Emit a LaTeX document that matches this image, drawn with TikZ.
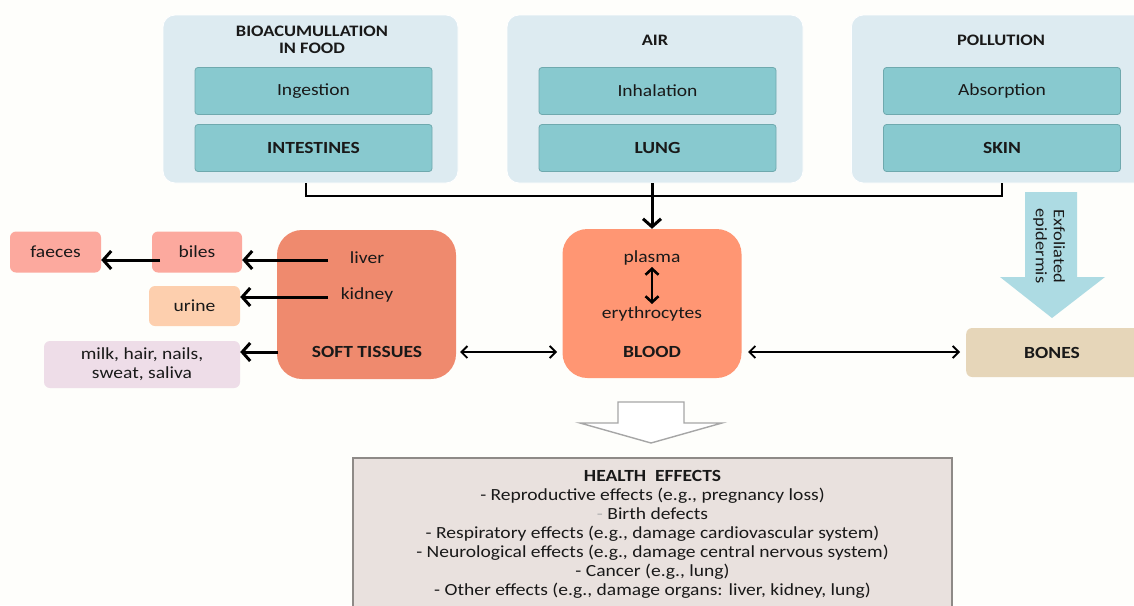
\documentclass[tikz,border=0pt]{standalone}
\usepackage{fontspec}
\setmainfont{Carlito}[FakeStretch=1.15]
\usetikzlibrary{arrows.meta}
\definecolor{bg}{HTML}{FEFEFB}
\definecolor{cont}{HTML}{DDEBF1}
\definecolor{teal}{HTML}{88C9CF}
\definecolor{tealedge}{HTML}{6FA9AE}
\definecolor{soft}{HTML}{EF8A6E}
\definecolor{blood}{HTML}{FF9673}
\definecolor{bile}{HTML}{FCA99E}
\definecolor{urine}{HTML}{FDCFAE}
\definecolor{milk}{HTML}{EEDDE8}
\definecolor{bones}{HTML}{E6D6B9}
\definecolor{exfol}{HTML}{ADDBE3}
\definecolor{health}{HTML}{E9E1DE}
\definecolor{healthedge}{HTML}{8E8A87}
\tikzset{
  txt/.style={font=\fontsize{17}{19}\selectfont, text=black!90},
  btxt/.style={font=\fontsize{17}{19}\selectfont\bfseries, text=black!90},
  container/.style={fill=cont, draw=white, rounded corners=12pt, line width=0.8pt},
  inner/.style={fill=teal, draw=tealedge, rounded corners=3pt, line width=0.8pt,
    minimum width=237pt, minimum height=47pt, txt},
  organ/.style={rounded corners=25pt, minimum width=179pt, minimum height=149pt},
  outbox/.style={rounded corners=6pt, minimum height=41pt, txt},
  thickarr/.style={line width=3pt, -{Straight Barb[length=8pt,width=18pt]}},
  dblarr/.style={line width=1.8pt, {Straight Barb[length=6pt,width=12pt]}-{Straight Barb[length=6pt,width=12pt]}},
  lbl/.style={txt, inner sep=0pt}
}
\begin{document}
\begin{tikzpicture}[x=1pt,y=-1pt]
\fill[bg] (0,0) rectangle (1134,605);
\useasboundingbox (0,0) rectangle (1134,605);

% top containers
\node[container, minimum width=295pt, minimum height=168pt] (c1) at (310.5,99) {};
\node[container, minimum width=296pt, minimum height=168pt] (c2) at (655,99) {};
\node[container, minimum width=300pt, minimum height=168pt, anchor=west] (c3) at (851,99) {};

\node[lbl, btxt, align=center, font=\fontsize{16}{17}\selectfont\bfseries] (t1) at (312,39.5) {BIOACUMULLATION\\IN FOOD};
\node[lbl, btxt, font=\fontsize{16}{17}\selectfont\bfseries] (t2) at (655,40) {AIR};
\node[lbl, btxt, font=\fontsize{16}{17}\selectfont\bfseries] (t3) at (1001,40) {POLLUTION};

\node[inner] (ing) at (313.5,91) {Ingestion};
\node[inner, btxt] (int) at (313.5,148) {INTESTINES};
\node[inner] (inh) at (657.5,91) {Inhalation};
\node[inner, btxt] (lung) at (657.5,148) {LUNG};
\node[inner] (abs) at (1002,91) {Absorption};
\node[inner, btxt] (skin) at (1002,148) {SKIN};

% organs
\node[organ, fill=soft] (soft) at (366.5,304.5) {};
\node[organ, fill=blood] (blood) at (652,303.5) {};
\node[lbl] (liver) at (367,258) {liver};
\node[lbl] (kidney) at (367,295) {kidney};
\node[lbl, btxt] (stl) at (367,352) {SOFT TISSUES};
\node[lbl] (plasma) at (652,258) {plasma};
\node[lbl] (ery) at (652,314) {erythrocytes};
\node[lbl, btxt] (bl) at (652,352) {BLOOD};

% outputs
\node[outbox, fill=bile, minimum width=90pt] (biles) at (197,252) {biles};
\node[outbox, fill=bile, minimum width=91pt] (faeces) at (55.5,252) {faeces};
\node[outbox, fill=urine, minimum width=91pt, minimum height=40pt] (urine) at (194.5,306) {urine};
\node[outbox, fill=milk, minimum width=196pt, minimum height=47pt, align=center] (milk) at (142,364.5) {milk, hair, nails,\\sweat, saliva};
\node[outbox, fill=bones, minimum width=175pt, minimum height=49pt, anchor=west] (bones) at (966,352.5) {};
\node[lbl, btxt] (bonest) at (1052,353) {BONES};

% top connector
\coordinate (j1) at (306,196);
\coordinate (j3) at (1002,196);
\draw[line width=2.6pt] (306,183) -- (j1) -- (j3) -- (1002,183);
\draw[thickarr] (652,183) -- (blood.north);

% exfoliated epidermis arrow
\fill[exfol] (1025,192) -- (1077,192) -- (1077,277) -- (1105,277) -- (1052,318) -- (1000,277) -- (1025,277) -- cycle;
\node[lbl, rotate=-90, align=center, font=\fontsize{16}{18}\selectfont] (exf) at (1049,246) {Exfoliated\\epidermis};

% organ outputs
\coordinate (liverA) at (328,260);
\coordinate (kidA) at (328,297);
\coordinate (stA) at (278,352);
\coordinate (bilA) at (160,260);
\draw[thickarr] (liverA) -- (biles.east |- liverA);
\draw[thickarr] (kidA) -- (urine.east |- kidA);
\draw[thickarr] (stA) -- (milk.east |- stA);
\draw[thickarr] (bilA) -- (faeces.east |- bilA);
\draw[line width=2.6pt, {Straight Barb[length=6pt,width=13pt]}-{Straight Barb[length=6pt,width=13pt]}] (652,267) -- (652,304);

% double arrows
\draw[dblarr] (soft.east |- stl) ++(4,0) -- (557,352);
\draw[dblarr] (748,352) -- (960,352);

% health arrow
\draw[fill=white!95!blue!3, draw=gray!70, line width=1.4pt, line join=miter]
  (618,402) -- (684,402) -- (684,423) -- (722,423) -- (651,443) -- (580,423) -- (618,423) -- cycle;

% health box
\draw[fill=health, draw=healthedge, line width=1.4pt] (353,458) rectangle (952,612);
\node[lbl, align=center, font=\fontsize{17}{19}\selectfont, anchor=north] (he) at (652.5,470)
  {\textbf{HEALTH\ \ EFFECTS}\\
  - Reproductive effects (e.g., pregnancy loss)\\
  {\color{gray!60}-} Birth defects\\
  - Respiratory effects (e.g., damage cardiovascular system)\\
  - Neurological effects (e.g., damage central nervous system)\\
  - Cancer (e.g., lung)\\
  - Other effects (e.g., damage organs: liver, kidney, lung)};
\end{tikzpicture}
\end{document}
